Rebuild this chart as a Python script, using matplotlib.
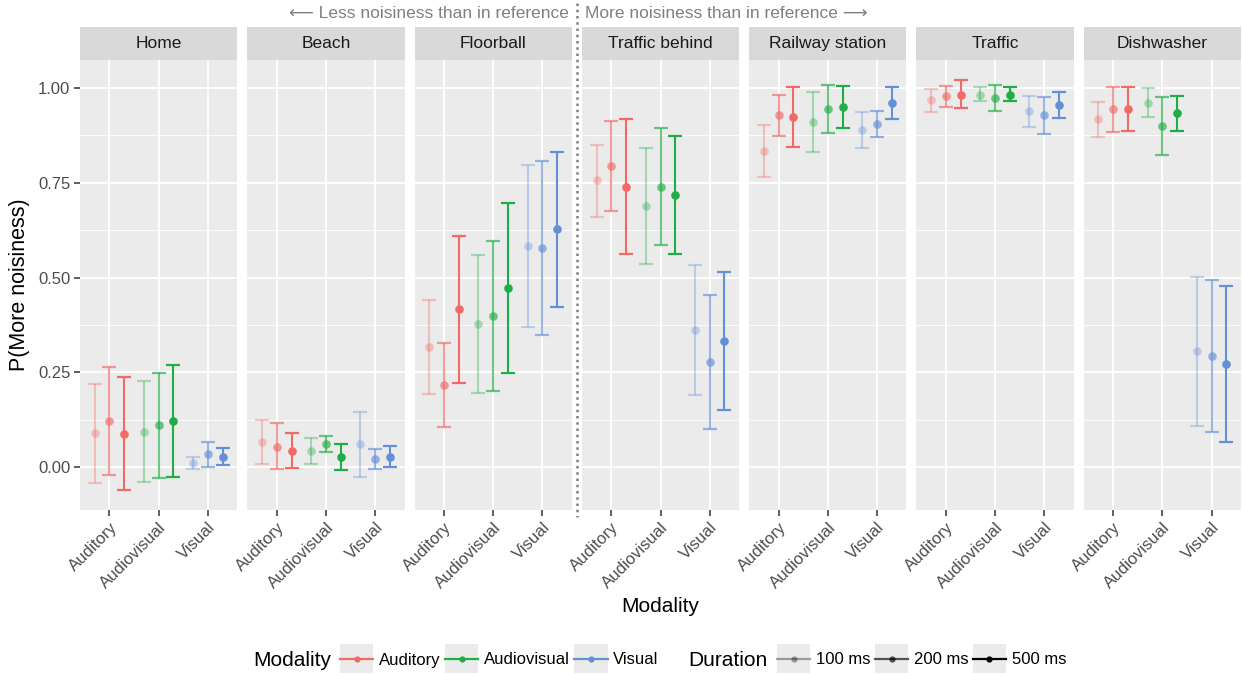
import numpy as np
import matplotlib
matplotlib.use('Agg')
import matplotlib.pyplot as plt
from matplotlib.lines import Line2D
from matplotlib.patches import Rectangle
from matplotlib.legend_handler import HandlerLine2D

plt.rcParams['font.family'] = ['Liberation Sans', 'DejaVu Sans']

scenes = ['Home', 'Beach', 'Floorball', 'Traffic behind', 'Railway station', 'Traffic', 'Dishwasher']
modalities = ['Auditory', 'Audiovisual', 'Visual']
durations = ['100 ms', '200 ms', '500 ms']

# one row per scene: Auditory 100/200/500, Audiovisual 100/200/500, Visual 100/200/500
p_mean = [
    [0.090, 0.122, 0.089, 0.094, 0.111, 0.122, 0.012, 0.034, 0.028],
    [0.067, 0.054, 0.044, 0.044, 0.061, 0.027, 0.061, 0.022, 0.028],
    [0.316, 0.217, 0.417, 0.377, 0.400, 0.472, 0.583, 0.577, 0.628],
    [0.757, 0.795, 0.739, 0.689, 0.738, 0.717, 0.361, 0.278, 0.333],
    [0.834, 0.929, 0.923, 0.911, 0.945, 0.951, 0.889, 0.906, 0.961],
    [0.968, 0.979, 0.983, 0.983, 0.973, 0.983, 0.939, 0.929, 0.956],
    [0.918, 0.945, 0.945, 0.961, 0.900, 0.933, 0.306, 0.294, 0.272],
]
ci_low = [
    [-0.042, -0.020, -0.059, -0.038, -0.027, -0.025, -0.005, 0.000, 0.005],
    [0.008, -0.005, -0.001, 0.010, 0.040, -0.006, -0.025, -0.005, 0.000],
    [0.193, 0.107, 0.222, 0.195, 0.202, 0.248, 0.370, 0.348, 0.423],
    [0.661, 0.677, 0.562, 0.537, 0.585, 0.562, 0.190, 0.101, 0.151],
    [0.766, 0.873, 0.845, 0.832, 0.882, 0.896, 0.841, 0.872, 0.919],
    [0.938, 0.951, 0.948, 0.965, 0.939, 0.966, 0.898, 0.880, 0.922],
    [0.872, 0.885, 0.888, 0.924, 0.824, 0.888, 0.110, 0.094, 0.066],
]
ci_high = [
    [0.220, 0.265, 0.237, 0.228, 0.249, 0.269, 0.028, 0.068, 0.050],
    [0.125, 0.116, 0.091, 0.078, 0.083, 0.061, 0.147, 0.049, 0.056],
    [0.440, 0.327, 0.611, 0.561, 0.597, 0.697, 0.798, 0.807, 0.832],
    [0.850, 0.912, 0.918, 0.842, 0.894, 0.873, 0.533, 0.455, 0.514],
    [0.902, 0.982, 1.002, 0.990, 1.008, 1.005, 0.938, 0.940, 1.004],
    [0.997, 1.005, 1.020, 1.002, 1.007, 1.002, 0.980, 0.977, 0.990],
    [0.963, 1.004, 1.002, 0.999, 0.977, 0.980, 0.501, 0.494, 0.479],
]

colors = ['#F26A66', '#1FAE45', '#6490D8']
alphas = [0.35, 0.65, 1.0]
dodge = [-0.3, 0.0, 0.3]

W, H = 1243, 675
fig, axes = plt.subplots(1, 7, figsize=(W / 100, H / 100), dpi=100, sharey=True)
fig.subplots_adjust(left=80 / W, right=1241 / W, bottom=1 - 510 / H, top=1 - 60 / H, wspace=10 / 157)

for s, ax in enumerate(axes):
    ax.set_facecolor('#EBEBEB')
    for sp in ax.spines.values():
        sp.set_visible(False)
    ax.set_axisbelow(True)
    ax.set_xlim(0.4, 3.6)
    ax.set_ylim(-0.1126, 1.074)
    ax.set_yticks([0, 0.25, 0.5, 0.75, 1.0])
    ax.set_yticklabels(['0.00', '0.25', '0.50', '0.75', '1.00'])
    ax.set_yticks([0.125, 0.375, 0.625, 0.875], minor=True)
    ax.set_xticks([1, 2, 3])
    ax.set_xticklabels(modalities, rotation=45, ha='right', va='top', rotation_mode='anchor')
    ax.grid(which='major', color='white', lw=1.3)
    ax.grid(which='minor', axis='y', color='white', lw=0.6)
    ax.tick_params(which='major', length=4, width=1.1, color='#333333',
                   labelcolor='#4D4D4D', labelsize=12, pad=3)
    ax.tick_params(which='minor', length=0)
    if s > 0:
        ax.tick_params(axis='y', which='both', left=False)

    # facet strip
    sh = 33 / 450
    ax.add_patch(Rectangle((0, 1), 1, sh, transform=ax.transAxes, facecolor='#D9D9D9',
                           edgecolor='none', clip_on=False))
    ax.text(0.5, 1 + sh / 2, scenes[s], transform=ax.transAxes, ha='center', va='center',
            fontsize=12.5, color='#1A1A1A')

    for m in range(3):
        for d in range(3):
            i = m * 3 + d
            x = m + 1 + dodge[d]
            y = p_mean[s][i]
            err = [[y - ci_low[s][i]], [ci_high[s][i] - y]]
            ax.errorbar(x, y, yerr=err, fmt='none', ecolor=colors[m], alpha=alphas[d],
                        elinewidth=1.5, capsize=5, capthick=1.6)
            ax.plot(x, y, 'o', color=colors[m], alpha=alphas[d], ms=6.2, mew=0)

fig.text(20 / W, 1 - 285 / H, 'P(More noisiness)', rotation=90, ha='center', va='center', fontsize=15.5)
fig.text(660 / W, 1 - 607 / H, 'Modality', ha='center', va='center', fontsize=15)

# direction annotation above the panels
fig.text(569 / W, 1 - 13 / H, '\u27f5 Less noisiness than in reference', ha='right', va='center',
         fontsize=12.5, color='#808080')
fig.text(585 / W, 1 - 13 / H, 'More noisiness than in reference \u27f6', ha='left', va='center',
         fontsize=12.5, color='#808080')
fig.add_artist(Line2D([577 / W, 577 / W], [1 - 3 / H, 1 - 517 / H], transform=fig.transFigure,
                      color='#808080', lw=1.8, linestyle=(0, (1, 1.5))))


class KeyBox(HandlerLine2D):
    def create_artists(self, legend, orig_handle, xdescent, ydescent, width, height, fontsize, trans):
        bh = 21
        yc = -ydescent + height / 2
        box = Rectangle((-xdescent, yc - bh / 2), width, bh, facecolor='#EBEBEB',
                        edgecolor='none', transform=trans)
        arts = super().create_artists(legend, orig_handle, xdescent, ydescent, width, height,
                                      fontsize, trans)
        return [box] + list(arts)


ly = 1 - 660 / H
mod_handles = [Line2D([], [], color=c, lw=1.6, marker='o', ms=4.5, mew=0) for c in colors]
dur_handles = [Line2D([], [], color='black', alpha=a, lw=1.6, marker='o', ms=4.5, mew=0) for a in alphas]

fig.text(253 / W, ly, 'Modality', ha='left', va='center', fontsize=15)
leg1 = fig.legend(mod_handles, modalities, loc='center left', bbox_to_anchor=(340 / W, ly), ncol=3,
                  frameon=False, fontsize=12, handlelength=2.0, handletextpad=0.35,
                  columnspacing=0.25, borderpad=0, borderaxespad=0,
                  handler_map={Line2D: KeyBox()})
fig.text(688 / W, ly, 'Duration', ha='left', va='center', fontsize=15)
leg2 = fig.legend(dur_handles, durations, loc='center left', bbox_to_anchor=(777 / W, ly), ncol=3,
                  frameon=False, fontsize=12, handlelength=2.0, handletextpad=0.35,
                  columnspacing=0.25, borderpad=0, borderaxespad=0,
                  handler_map={Line2D: KeyBox()})

fig.savefig('out.png', dpi=100)
